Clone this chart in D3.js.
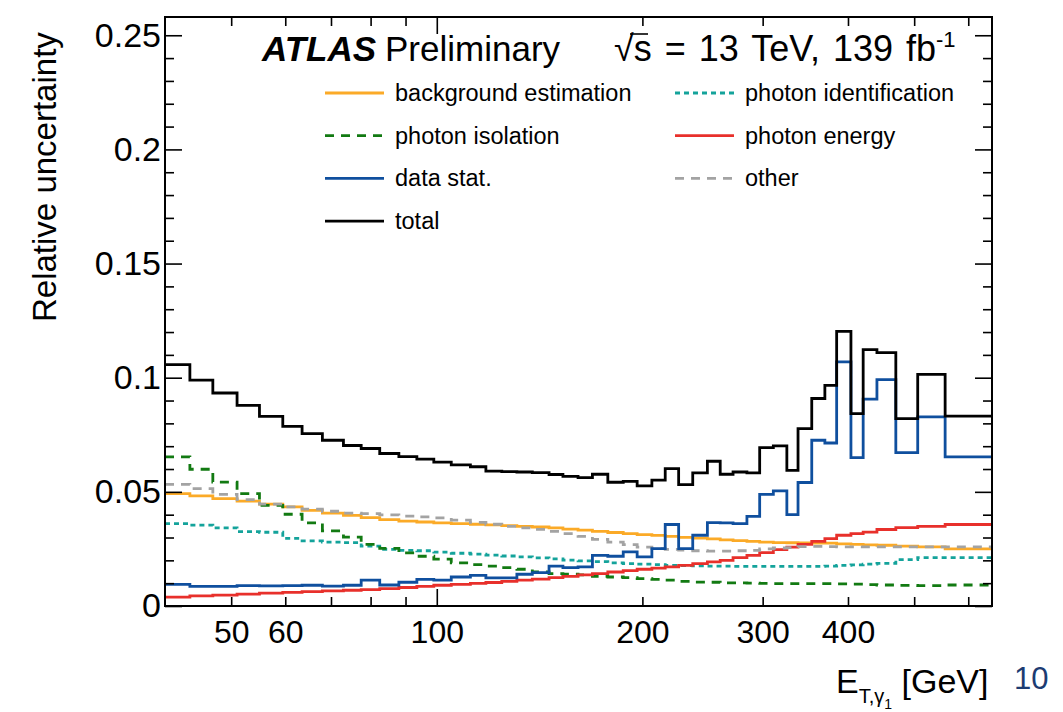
<!DOCTYPE html>
<html>
<head>
<meta charset="utf-8">
<script src="https://cdn.jsdelivr.net/npm/d3@7"></script>
<style>
  body { margin: 0; background: #fff; }
  svg { font-family: "Liberation Sans", Arial, Helvetica, sans-serif; }
</style>
</head>
<body>
<svg id="chart" width="1063" height="712"></svg>
<script>
// Bin edges in GeV (48 bins)
const binEdges = [40, 43.5, 47, 51, 55, 59.5, 63.5, 68, 73, 77.5, 82.5, 88, 93.5, 99, 105, 112,
  118, 124.5, 131, 138, 146, 153, 161, 169, 178, 187.5, 196.5, 206.5, 216, 226, 237, 249,
  260, 271.5, 284.5, 297, 311, 325.5, 338, 354, 370, 385, 404, 421, 441, 470, 506, 555, 650];

const bkgEstimation = [.0492, .0482, .0470, .0459, .0446, .0434, .0419, .0407, .0397, .0387, .0378, .0372,
  .0368, .0364, .0361, .0358, .0355, .0352, .0349, .0346, .0342, .0337, .0332, .0327, .0322, .0317,
  .0313, .0309, .0305, .0301, .0297, .0294, .0290, .0286, .0283, .0280, .0278, .0277, .0276, .0276,
  .0275, .0272, .0270, .0268, .0266, .0262, .0259, .0250];

const photonId = [.0361, .0354, .0342, .0326, .0323, .0296, .0285, .0280, .0278, .0262, .0248, .0244,
  .0242, .0236, .0231, .0227, .0223, .0219, .0215, .0211, .0206, .0201, .0198, .0194, .0189, .0186,
  .0183, .0181, .0178, .0177, .0176, .0175, .0175, .0174, .0174, .0174, .0174, .0174, .0174, .0174,
  .0175, .0178, .0180, .0183, .0187, .0203, .0212, .0212];

const photonIso = [.0653, .0599, .0543, .0492, .0441, .0402, .0364, .0329, .0302, .0270, .0252, .0233,
  .0218, .0205, .0189, .0181, .0175, .0168, .0161, .0149, .0142, .0140, .0136, .0130, .0127, .0124,
  .0120, .0117, .0113, .0108, .0105, .0104, .0101, .0101, .0100, .0099, .0098, .0098, .0098, .0098,
  .0098, .0097, .0096, .0094, .0092, .0090, .0089, .0092];

const photonEnergy = [.0039, .0044, .0048, .0052, .0056, .0060, .0063, .0066, .0069, .0072, .0076, .0081,
  .0086, .0091, .0095, .0099, .0103, .0108, .0113, .0118, .0124, .0130, .0136, .0142, .0149, .0155,
  .0161, .0166, .0171, .0178, .0186, .0193, .0200, .0212, .0222, .0234, .0247, .0258, .0270, .0283,
  .0295, .0310, .0317, .0324, .0335, .0343, .0349, .0357];

const dataStat = [.0095, .0086, .0086, .0089, .0088, .0089, .0091, .0087, .0091, .0113, .0092, .0104,
  .0117, .0113, .0127, .0134, .0123, .0123, .0139, .0146, .0175, .0168, .0171, .0222, .0218, .0237,
  .0215, .0251, .0357, .0251, .0310, .0365, .0364, .0361, .0393, .0489, .0504, .0400, .0541, .0726,
  .0714, .1069, .0650, .0906, .0992, .0672, .0828, .0653];

const other = [.0533, .0514, .0489, .0466, .0446, .0434, .0424, .0415, .0407, .0405, .0399, .0394,
  .0390, .0386, .0376, .0366, .0358, .0349, .0342, .0336, .0327, .0317, .0305, .0292, .0280, .0269,
  .0258, .0251, .0248, .0245, .0242, .0240, .0240, .0242, .0244, .0250, .0254, .0256, .0260, .0261,
  .0260, .0259, .0259, .0259, .0259, .0259, .0259, .0259];

const total = [.1057, .0989, .0933, .0879, .0831, .0787, .0755, .0726, .0703, .0690, .0668, .0654,
  .0643, .0630, .0618, .0610, .0591, .0589, .0587, .0584, .0576, .0568, .0562, .0577, .0542, .0546,
  .0526, .0551, .0602, .0532, .0583, .0634, .0577, .0587, .0583, .0694, .0701, .0594, .0777, .0909,
  .0966, .1203, .0843, .1123, .1110, .0821, .1015, .0832];

const xTicks = [50, 60, 70, 80, 90, 100, 200, 300, 400, 500, 600];
const xTickLabels = [50, 60, 100, 200, 300, 400];
const yTicks = [0, 0.05, 0.1, 0.15, 0.2, 0.25];
const yTickLabels = ["0", "0.05", "0.1", "0.15", "0.2", "0.25"];
const yMinorTicks = [0.01, 0.02, 0.03, 0.04, 0.06, 0.07, 0.08, 0.09, 0.11, 0.12, 0.13, 0.14,
  0.16, 0.17, 0.18, 0.19, 0.21, 0.22, 0.23, 0.24];

// Layout
const L = 165, R = 992, T = 17, B = 606;
const svg = d3.select("#chart");
svg.append("rect").attr("width", 1063).attr("height", 712).attr("fill", "#fff");

const x = d3.scaleLog().domain([40, 650]).range([L, R]);
const y = d3.scaleLinear().domain([0, 0.258]).range([B, T]);

// Series drawn as step histograms
const series = [
  { name: "background estimation", vals: bkgEstimation, color: "#fbaa27", dash: null },
  { name: "photon identification", vals: photonId, color: "#14a39b", dash: "5,4" },
  { name: "photon isolation", vals: photonIso, color: "#127a12", dash: "9,7" },
  { name: "photon energy", vals: photonEnergy, color: "#e8302b", dash: null },
  { name: "data stat.", vals: dataStat, color: "#0f4f9e", dash: null },
  { name: "other", vals: other, color: "#a3a3a3", dash: "9,7" },
  { name: "total", vals: total, color: "#000", dash: null }
];

svg.append("clipPath").attr("id", "plotClip")
  .append("rect").attr("x", L).attr("y", T).attr("width", R - L).attr("height", B - T);

const line = d3.line()
  .x(d => x(d[0]))
  .y(d => y(d[1]))
  .curve(d3.curveStepAfter);

const plot = svg.append("g").attr("clip-path", "url(#plotClip)");
// draw order: total last so it sits on top
const drawOrder = ["background estimation", "photon identification", "photon isolation", "photon energy", "other", "data stat.", "total"];
drawOrder.forEach(n => {
  const s = series.find(d => d.name === n);
  const pts = s.vals.map((v, i) => [binEdges[i], v]);
  pts.push([binEdges[binEdges.length - 1], s.vals[s.vals.length - 1]]);
  plot.append("path")
    .attr("d", line(pts))
    .attr("fill", "none")
    .attr("stroke", s.color)
    .attr("stroke-width", 2.8)
    .attr("stroke-dasharray", s.dash);
});

// Axes
function styleAxis(g, fs) {
  g.select(".domain").remove();
  g.selectAll(".tick line").attr("stroke", "#000").attr("stroke-width", 1.6);
  g.selectAll(".tick text").attr("fill", "#000").style("font-size", fs || "31px")
    .style("font-family", "'Liberation Sans', Arial, Helvetica, sans-serif");
}

const xBottom = svg.append("g").attr("transform", `translate(0,${B})`)
  .call(d3.axisBottom(x).tickValues(xTicks).tickSize(-9).tickPadding(14)
    .tickFormat(d => xTickLabels.includes(d) ? d : ""));
styleAxis(xBottom, "32px");
xBottom.selectAll(".tick line").filter(d => d === 100).attr("y2", -17);

const xTop = svg.append("g").attr("transform", `translate(0,${T})`)
  .call(d3.axisTop(x).tickValues(xTicks).tickSize(-9).tickFormat(""));
styleAxis(xTop);
xTop.selectAll(".tick line").filter(d => d === 100).attr("y2", 17);

const yLeft = svg.append("g").attr("transform", `translate(${L},0)`)
  .call(d3.axisLeft(y).tickValues(yTicks).tickSize(-17).tickPadding(4)
    .tickFormat((d, i) => yTickLabels[i]));
styleAxis(yLeft, "34px");
const yLeftMinor = svg.append("g").attr("transform", `translate(${L},0)`)
  .call(d3.axisLeft(y).tickValues(yMinorTicks).tickSize(-9).tickFormat(""));
styleAxis(yLeftMinor);

const yRight = svg.append("g").attr("transform", `translate(${R},0)`)
  .call(d3.axisRight(y).tickValues(yTicks).tickSize(-17).tickFormat(""));
styleAxis(yRight);
const yRightMinor = svg.append("g").attr("transform", `translate(${R},0)`)
  .call(d3.axisRight(y).tickValues(yMinorTicks).tickSize(-9).tickFormat(""));
styleAxis(yRightMinor);

// Frame
svg.append("rect")
  .attr("x", L).attr("y", T).attr("width", R - L).attr("height", B - T)
  .attr("fill", "none").attr("stroke", "#000").attr("stroke-width", 2);

// Axis titles
svg.append("text")
  .attr("transform", "translate(56,322) rotate(-90)")
  .attr("text-anchor", "start")
  .style("font-size", "33px")
  .text("Relative uncertainty");

const xt = svg.append("text").attr("x", 836).attr("y", 693).style("font-size", "34px");
xt.append("tspan").text("E");
xt.append("tspan").attr("dy", 10).style("font-size", "20px").text("T,γ");
xt.append("tspan").attr("dy", 6).style("font-size", "14px").text("1");
xt.append("tspan").attr("dy", -16).text(" [GeV]");

svg.append("text").attr("x", 1014).attr("y", 689)
  .style("font-size", "31px").attr("fill", "#1d3c72").text("10");

// ATLAS label
svg.append("text").attr("x", 262).attr("y", 61)
  .style("font-size", "35px").style("font-weight", "bold").style("font-style", "italic")
  .text("ATLAS");
svg.append("text").attr("x", 385).attr("y", 61)
  .style("font-size", "35px").text("Preliminary");
const lumi = svg.append("text").attr("x", 614).attr("y", 61)
  .style("font-size", "36px").style("word-spacing", "3px");
lumi.append("tspan").text("√s = 13 TeV, 139 fb");
lumi.append("tspan").attr("dy", -14).style("font-size", "22px").text("-1");
// overbar of the square root
svg.append("line").attr("x1", 630).attr("x2", 648).attr("y1", 34).attr("y2", 34)
  .attr("stroke", "#000").attr("stroke-width", 1.6);

// Legend
const legendOrder = ["background estimation", "photon identification", "photon isolation", "photon energy", "data stat.", "other", "total"];
const legend = svg.append("g");
legendOrder.forEach((n, i) => {
  const s = series.find(d => d.name === n);
  const col = i % 2, row = Math.floor(i / 2);
  const lx = col === 0 ? 325 : 675;
  const ly = 93 + row * 42.7;
  legend.append("line")
    .attr("x1", lx).attr("x2", lx + 59).attr("y1", ly).attr("y2", ly)
    .attr("stroke", s.color).attr("stroke-width", 2.8)
    .attr("stroke-dasharray", s.dash);
  legend.append("text")
    .attr("x", lx + 70).attr("y", ly + 8)
    .style("font-size", "23.5px")
    .text(n);
});
</script>
</body>
</html>
